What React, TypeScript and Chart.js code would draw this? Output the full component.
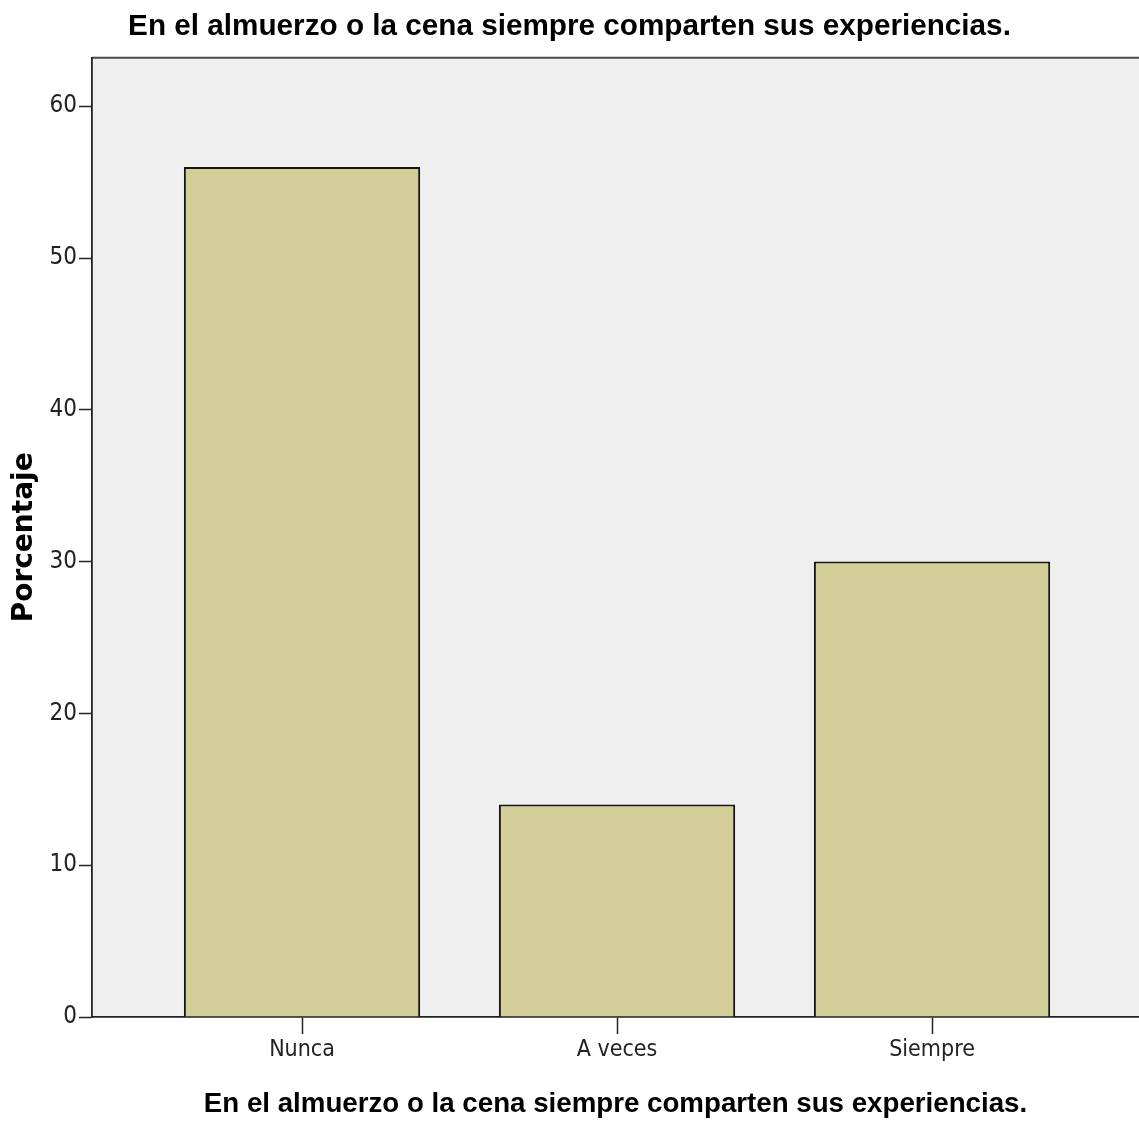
import React, { useEffect, useRef } from "react";
import { Chart, registerables } from "chart.js";

Chart.register(...registerables);

const chartTitle = "En el almuerzo o la cena siempre comparten sus experiencias.";
const xAxisTitle = "En el almuerzo o la cena siempre comparten sus experiencias.";
const yAxisTitle = "Porcentaje";
const categories = ["Nunca", "A veces", "Siempre"];
const percentages = [56, 14, 30];
const yTicks = [0, 10, 20, 30, 40, 50, 60];

const W = 1139;
const H = 1124;

const areaPlugin = {
  id: "areaBg",
  beforeDraw(chart: any) {
    const { ctx, chartArea } = chart;
    ctx.save();
    ctx.fillStyle = "#efefef";
    ctx.fillRect(chartArea.left, chartArea.top, chartArea.right - chartArea.left, chartArea.bottom - chartArea.top);
    ctx.strokeStyle = "#4a4a4a";
    ctx.lineWidth = 2;
    ctx.beginPath();
    ctx.moveTo(chartArea.left, chartArea.top);
    ctx.lineTo(chartArea.right, chartArea.top);
    ctx.stroke();
    ctx.restore();
  },
};

export default function App() {
  const ref = useRef<HTMLCanvasElement | null>(null);
  useEffect(() => {
    if (!ref.current) return;
    const narrow = "'Liberation Sans Narrow', 'Arial Narrow', 'DejaVu Sans Condensed', sans-serif";
    const chart = new Chart(ref.current, {
      type: "bar",
      data: {
        datasets: [
          {
            data: percentages.map((v, i) => ({ x: i, y: v })),
            backgroundColor: "#d3ce98",
            borderColor: "#141414",
            borderWidth: 2,
            barPercentage: 0.75,
            categoryPercentage: 1,
          },
        ],
      },
      options: {
        animation: false,
        responsive: false,
        maintainAspectRatio: false,
        layout: { padding: 0 },
        plugins: {
          legend: { display: false },
          tooltip: { enabled: false },
          title: {
            display: true,
            text: chartTitle,
            color: "#000",
            font: { family: "'Liberation Sans', Arial, sans-serif", size: 29.7, weight: "bold", lineHeight: 1.2 },
            padding: { top: 9, bottom: 13 },
          },
        },
        scales: {
          x: {
            type: "linear",
            offset: false,
            min: -0.6667,
            max: 2.657,
            afterBuildTicks: (s: any) => {
              s.ticks = categories.map((_, i) => ({ value: i }));
            },
            afterFit: (s: any) => {
              s.height = H - 1017;
            },
            ticks: {
              callback: (v: any) => categories[v as number] ?? "",
              color: "#222",
              font: { family: narrow, size: 23 },
              padding: 2,
              maxRotation: 0,
              autoSkip: false,
            },
            grid: {
              display: true,
              offset: false,
              drawOnChartArea: false,
              drawTicks: true,
              tickLength: 17,
              tickColor: "#222",
              tickWidth: 1.5,
            },
            border: { display: true, color: "#222", width: 1.8 },
            title: {
              display: true,
              text: xAxisTitle,
              color: "#000",
              font: { family: "'Liberation Sans', Arial, sans-serif", size: 27.7, weight: "bold", lineHeight: 1.2 },
              padding: { top: 0, bottom: 3 },
            },
          },
          y: {
            min: 0,
            max: 63.2,
            afterBuildTicks: (s: any) => {
              s.ticks = yTicks.map((v) => ({ value: v }));
            },
            afterFit: (s: any) => {
              s.width = 92;
            },
            ticks: {
              color: "#222",
              font: { family: narrow, size: 24 },
              padding: 2,
            },
            grid: {
              display: true,
              drawOnChartArea: false,
              drawTicks: true,
              tickLength: 13,
              tickColor: "#222",
              tickWidth: 1.5,
            },
            border: { display: true, color: "#222", width: 1.8 },
            title: {
              display: true,
              text: yAxisTitle,
              color: "#000",
              font: { family: "'DejaVu Sans', sans-serif", size: 28, weight: "bold", lineHeight: 1.2 },
              padding: { top: 8, bottom: 0 },
            },
          },
        },
      },
      plugins: [areaPlugin],
    } as any);
    return () => chart.destroy();
  }, []);
  return (
    <div style={{ position: "absolute", left: 0, top: 0, width: W, height: H, background: "#fff" }}>
      <canvas ref={ref} width={W} height={H} style={{ display: "block" }} />
    </div>
  );
}
